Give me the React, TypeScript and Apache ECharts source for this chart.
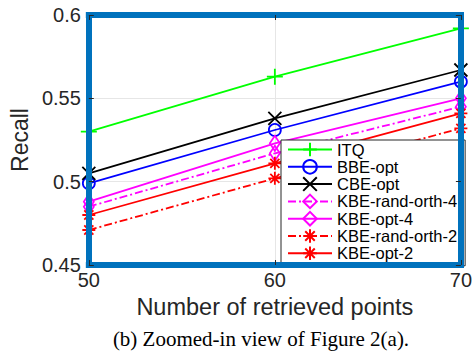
import React, { useEffect, useRef } from "react";
import * as echarts from "echarts";

// ---- data ----
const xValues = [50, 60, 70];
const seriesNames = [
  "ITQ",
  "BBE-opt",
  "CBE-opt",
  "KBE-rand-orth-4",
  "KBE-opt-4",
  "KBE-rand-orth-2",
  "KBE-opt-2",
];
const itq = [0.53, 0.563, 0.592];
const bbeOpt = [0.499, 0.531, 0.56];
const cbeOpt = [0.505, 0.538, 0.567];
const kbeRandOrth4 = [0.485, 0.517, 0.545];
const kbeOpt4 = [0.488, 0.523, 0.55];
const kbeRandOrth2 = [0.471, 0.502, 0.532];
const kbeOpt2 = [0.48, 0.511, 0.541];
const xTickRange = [50, 70, 10]; // min, max, interval
const yTickRange = [0.45, 0.6, 0.05];
const xAxisTitle = "Number of retrieved points";
const yAxisTitle = "Recall";
const caption = "(b) Zoomed-in view of Figure 2(a).";

const PLUS = "path://M5 0L5 10M0 5L10 5";
const CROSS = "path://M0 0L10 10M10 0L0 10";
const STAR = "path://M5 0L5 10M0 5L10 5M1.5 1.5L8.5 8.5M8.5 1.5L1.5 8.5";
const DASHDOT = [8, 3, 2, 3];

const FONT = "Liberation Sans";
const BORDER = "#0072BD";
const TEXT = "#262626";

function App() {
  const ref = useRef<HTMLDivElement>(null);

  useEffect(() => {
    if (!ref.current) return;
    const chart = echarts.init(ref.current, null, { renderer: "svg" });

    const values = [itq, bbeOpt, cbeOpt, kbeRandOrth4, kbeOpt4, kbeRandOrth2, kbeOpt2];
    const colors = ["#00FF00", "#0000FF", "#000000", "#FF00FF", "#FF00FF", "#FF0000", "#FF0000"];
    const symbols = [PLUS, "circle", CROSS, "diamond", "diamond", STAR, STAR];
    const sizes: any[] = [16, 12, 13, [10, 15], [10, 15], 13, 13];
    const dashes: any[] = ["solid", "solid", "solid", DASHDOT, "solid", DASHDOT, "solid"];

    const series = seriesNames.map((name, i) => ({
      name,
      type: "line",
      xAxisIndex: 0,
      yAxisIndex: 0,
      data: xValues.map((x, j) => [x, values[i][j]]),
      symbol: symbols[i],
      symbolSize: sizes[i],
      showSymbol: true,
      clip: false,
      lineStyle: { color: colors[i], width: 1.8, type: dashes[i] },
      itemStyle: { color: "rgba(0,0,0,0)", borderColor: colors[i], borderWidth: 1.8 },
      emphasis: { disabled: true },
      z: 3,
    }));

    const [xmin, xmax, xint] = xTickRange;
    const [ymin, ymax, yint] = yTickRange;

    const borderLine = {
      show: true,
      onZero: false,
      lineStyle: { color: BORDER, width: 6, cap: "square" },
    };
    const innerTick = { show: true, inside: true, length: 5, lineStyle: { color: TEXT, width: 1 } };

    const option: any = {
      animation: false,
      backgroundColor: "#fff",
      grid: { left: 85, top: 15, width: 379, height: 250, containLabel: false },
      xAxis: [
        {
          type: "value",
          position: "bottom",
          min: xmin,
          max: xmax,
          interval: xint,
          axisLine: borderLine,
          axisTick: innerTick,
          splitLine: { show: false },
          axisLabel: {
            color: TEXT,
            fontSize: 20,
            fontFamily: FONT,
            margin: 5,
            showMinLabel: true,
            showMaxLabel: true,
          },
          name: xAxisTitle,
          nameLocation: "middle",
          nameGap: 26,
          nameTextStyle: { color: TEXT, fontSize: 23.5, fontFamily: FONT },
          z: 10,
        },
        {
          type: "value",
          position: "top",
          min: xmin,
          max: xmax,
          interval: xint,
          axisLine: borderLine,
          axisTick: innerTick,
          axisLabel: { show: false },
          splitLine: { show: false },
          z: 10,
        },
        {
          type: "value",
          position: "bottom",
          min: xmin,
          max: xmax,
          interval: xint,
          axisLine: { show: false },
          axisTick: { show: false },
          axisLabel: { show: false },
          splitLine: { show: true, lineStyle: { color: "#E6E6E6", width: 1 } },
          z: 0,
        },
      ],
      yAxis: [
        {
          type: "value",
          position: "left",
          min: ymin,
          max: ymax,
          interval: yint,
          axisLine: borderLine,
          axisTick: innerTick,
          splitLine: { show: false },
          axisLabel: {
            color: TEXT,
            fontSize: 20,
            fontFamily: FONT,
            margin: 8,
            showMinLabel: true,
            showMaxLabel: true,
            formatter: (v: number) => String(+v.toFixed(2)),
          },
          name: yAxisTitle,
          nameLocation: "middle",
          nameGap: 53,
          nameTextStyle: { color: TEXT, fontSize: 23, fontFamily: FONT },
          z: 10,
        },
        {
          type: "value",
          position: "right",
          min: ymin,
          max: ymax,
          interval: yint,
          axisLine: borderLine,
          axisTick: innerTick,
          axisLabel: { show: false },
          splitLine: { show: false },
          z: 10,
        },
        {
          type: "value",
          position: "left",
          min: ymin,
          max: ymax,
          interval: yint,
          axisLine: { show: false },
          axisTick: { show: false },
          axisLabel: { show: false },
          splitLine: { show: true, lineStyle: { color: "#E6E6E6", width: 1 } },
          z: 0,
        },
      ],
      legend: {
        show: true,
        orient: "vertical",
        left: 281,
        top: 140,
        data: seriesNames,
        itemWidth: 44,
        itemHeight: 17,
        itemGap: 0.3,
        padding: [1, 8, 4, 6],
        backgroundColor: "#fff",
        borderColor: TEXT,
        borderWidth: 1,
        borderRadius: 0,
        selectedMode: false,
        textStyle: { fontSize: 16.5, color: "#000", fontFamily: FONT },
        z: 5,
      },
      graphic: [
        {
          type: "text",
          x: 261,
          y: 339,
          style: {
            text: caption,
            fontSize: 21,
            fontFamily: "Liberation Serif",
            fill: "#000",
            align: "center",
            verticalAlign: "middle",
          },
        },
      ],
      series,
    };

    chart.setOption(option);
    return () => chart.dispose();
  }, []);

  return (
    <div
      ref={ref}
      style={{ position: "fixed", left: 0, top: 0, width: 475, height: 356, background: "#fff" }}
    />
  );
}

export default App;
